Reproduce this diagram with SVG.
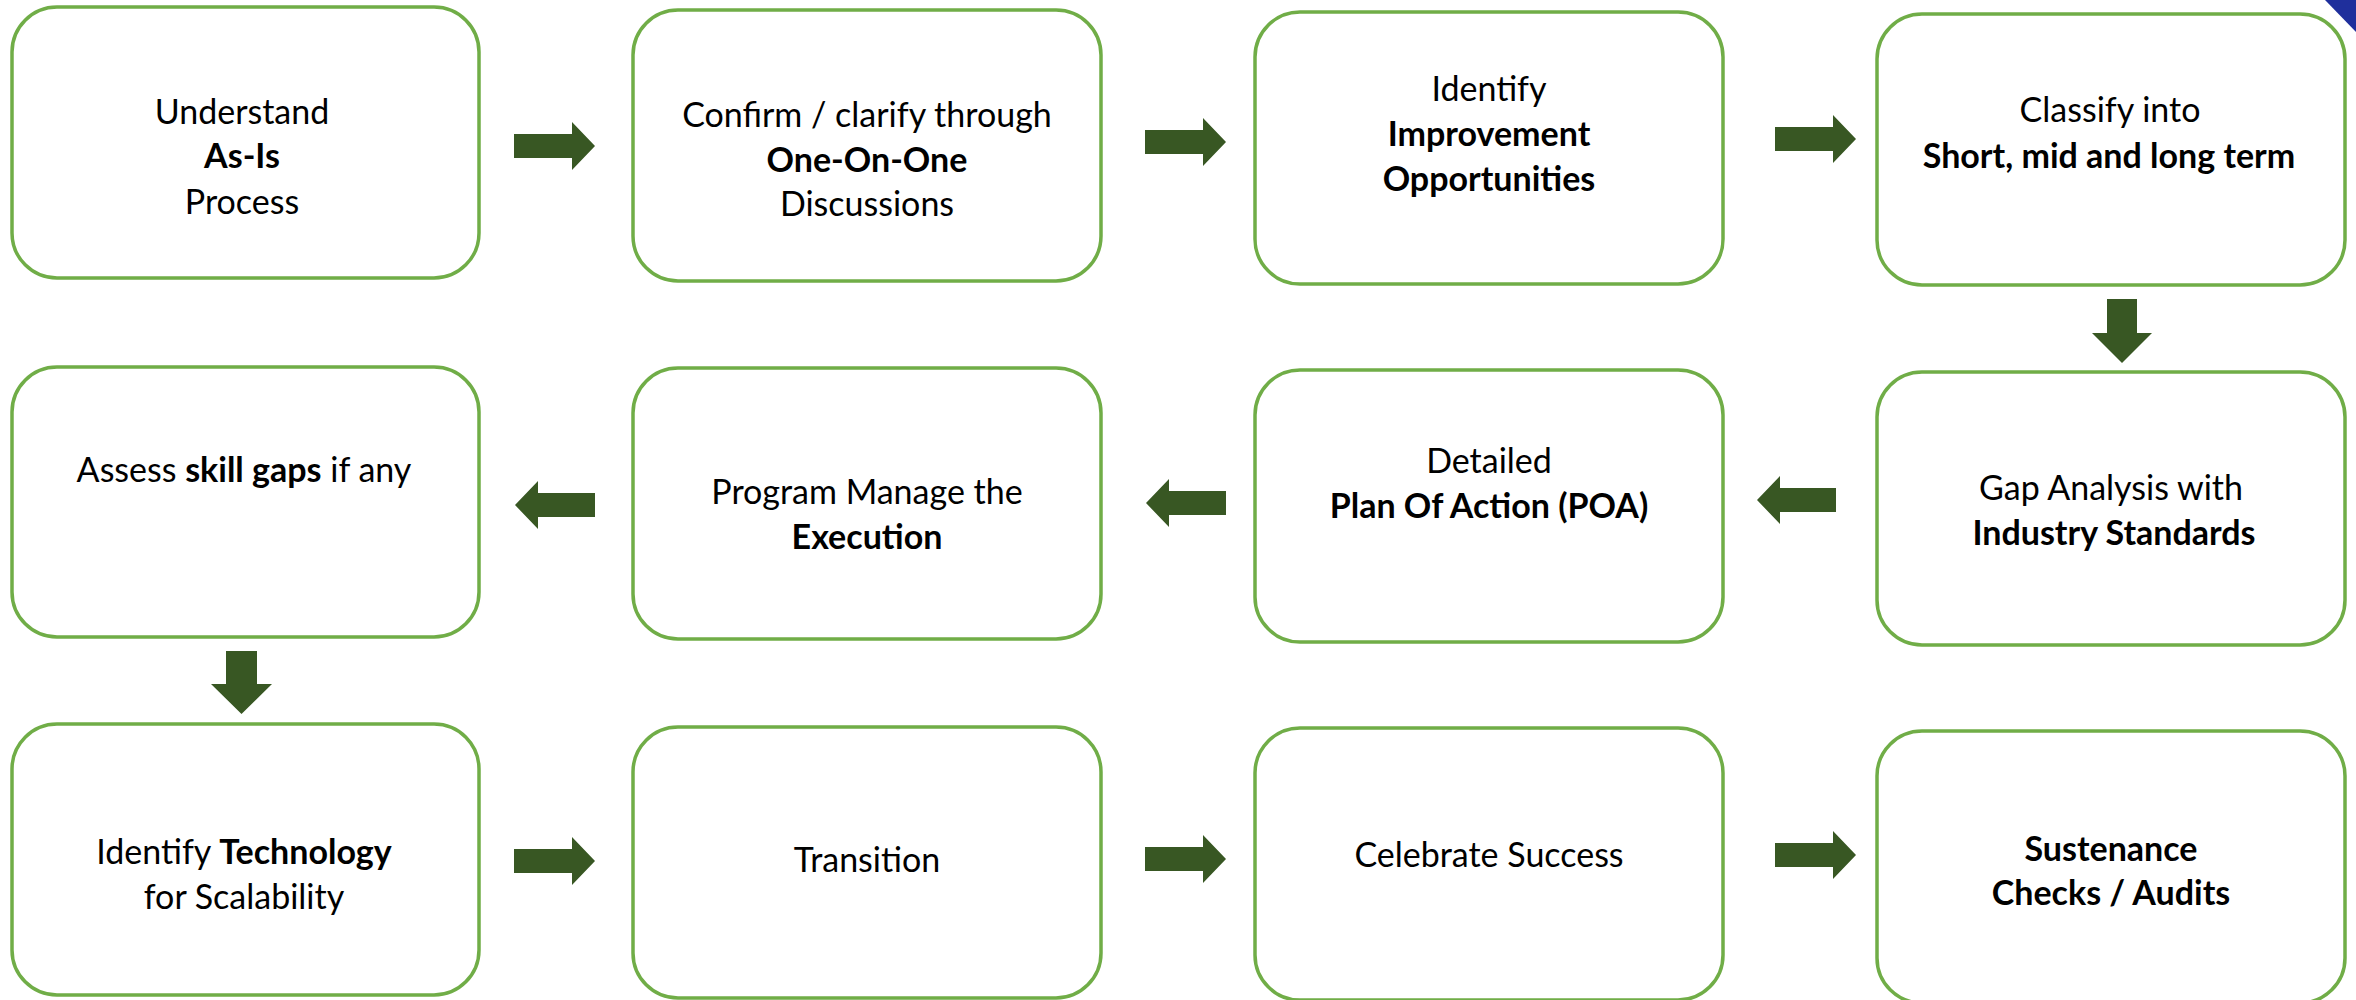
<svg xmlns="http://www.w3.org/2000/svg" width="2356" height="1000" viewBox="0 0 2356 1000">
<defs>
<style>
.node{fill:#ffffff;stroke:#70ad47;stroke-width:3.5}
.arr{fill:#385723}
text{font-family:Lato,"Liberation Sans",sans-serif;font-size:34px;fill:#000000;text-anchor:middle}
.b{font-weight:bold}
</style>
</defs>
<rect width="2356" height="1000" fill="#ffffff"/>
<polygon points="2325,0 2356,0 2356,32" fill="#1f2f9c"/>

<g id="n1"><rect class="node" x="12" y="7" width="467" height="271" rx="45"/>
<text x="242" y="124">Understand</text><text class="b" x="242" y="168">As-Is</text><text x="242" y="214">Process</text></g>
<g id="n2"><rect class="node" x="633" y="10" width="468" height="271" rx="45"/>
<text x="867" y="127">Confirm / clarify through</text><text class="b" x="867" y="172">One-On-One</text><text x="867" y="216">Discussions</text></g>
<g id="n3"><rect class="node" x="1255" y="12" width="468" height="272" rx="45"/>
<text x="1489" y="101">Identify</text><text class="b" x="1489" y="146">Improvement</text><text class="b" x="1489" y="191">Opportunities</text></g>
<g id="n4"><rect class="node" x="1877" y="14" width="468" height="271" rx="45"/>
<text x="2110" y="122">Classify into</text><text class="b" x="2109" y="168" font-size="34.5">Short, mid and long term</text></g>

<g id="n5"><rect class="node" x="12" y="367" width="467" height="270" rx="45"/>
<text x="244" y="482">Assess <tspan class="b">skill gaps</tspan> if any</text></g>
<g id="n6"><rect class="node" x="633" y="368" width="468" height="271" rx="45"/>
<text x="867" y="504">Program Manage the</text><text class="b" x="867" y="549">Execution</text></g>
<g id="n7"><rect class="node" x="1255" y="370" width="468" height="272" rx="45"/>
<text x="1489" y="473">Detailed</text><text class="b" x="1489" y="518">Plan Of Action (POA)</text></g>
<g id="n8"><rect class="node" x="1877" y="372" width="468" height="273" rx="45"/>
<text x="2111" y="500">Gap Analysis with</text><text class="b" x="2114" y="545" font-size="34.5">Industry Standards</text></g>

<g id="n9"><rect class="node" x="12" y="724" width="467" height="271" rx="45"/>
<text x="244" y="864">Identify <tspan class="b">Technology</tspan></text><text x="244" y="909">for Scalability</text></g>
<g id="n10"><rect class="node" x="633" y="727" width="468" height="271" rx="45"/>
<text x="867" y="872">Transition</text></g>
<g id="n11"><rect class="node" x="1255" y="728" width="468" height="272" rx="45"/>
<text x="1489" y="867">Celebrate Success</text></g>
<g id="n12"><rect class="node" x="1877" y="731" width="468" height="272" rx="45"/>
<text class="b" x="2111" y="861">Sustenance</text><text class="b" x="2111" y="905">Checks / Audits</text></g>

<g id="connectors">
<polygon class="arr" points="514,134 572,134 572,122 595,146 572,170 572,158 514,158"/>
<polygon class="arr" points="1145,130 1203,130 1203,118 1226,142 1203,166 1203,154 1145,154"/>
<polygon class="arr" points="1775,127 1833,127 1833,115 1856,139 1833,163 1833,151 1775,151"/>
<polygon class="arr" points="2107,299 2137,299 2137,333 2152,333 2122,363 2092,333 2107,333"/>
<polygon class="arr" points="1836,488 1780,488 1780,476 1757,500 1780,524 1780,512 1836,512"/>
<polygon class="arr" points="1226,491 1169,491 1169,479 1146,503 1169,527 1169,515 1226,515"/>
<polygon class="arr" points="595,493 538,493 538,481 515,505 538,529 538,517 595,517"/>
<polygon class="arr" points="226,651 257,651 257,684 272,684 241.5,714 211,684 226,684"/>
<polygon class="arr" points="514,849 572,849 572,837 595,861 572,885 572,873 514,873"/>
<polygon class="arr" points="1145,847 1203,847 1203,835 1226,859 1203,883 1203,871 1145,871"/>
<polygon class="arr" points="1775,843 1833,843 1833,831 1856,855 1833,879 1833,867 1775,867"/>
</g>
</svg>
